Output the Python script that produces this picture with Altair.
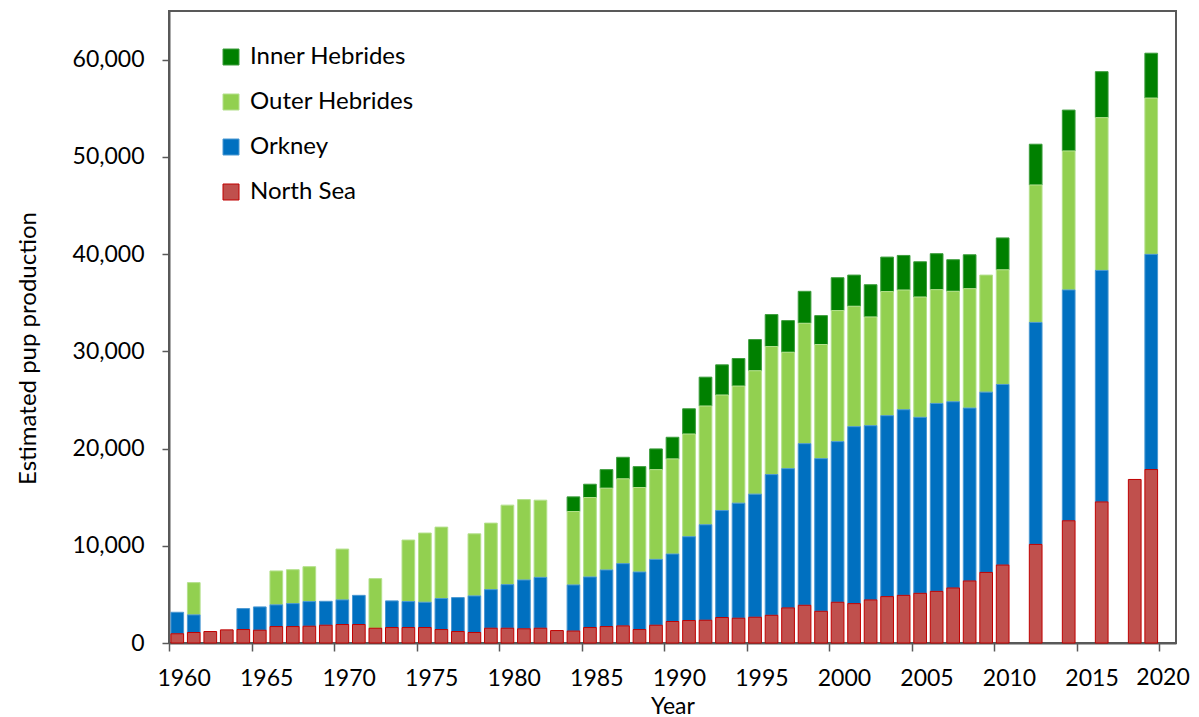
import altair as alt
import pandas as pd

years = [1960, 1961, 1962, 1963, 1964, 1965, 1966, 1967, 1968, 1969,
         1970, 1971, 1972, 1973, 1974, 1975, 1976, 1977, 1978, 1979,
         1980, 1981, 1982, 1983, 1984, 1985, 1986, 1987, 1988, 1989,
         1990, 1991, 1992, 1993, 1994, 1995, 1996, 1997, 1998, 1999,
         2000, 2001, 2002, 2003, 2004, 2005, 2006, 2007, 2008, 2009,
         2010, 2012, 2014, 2016, 2018, 2019]

north_sea = [950, 1080, 1180, 1350, 1385, 1315, 1690, 1690, 1725, 1830,
             1900, 1900, 1520, 1590, 1590, 1590, 1385, 1180, 1080, 1520,
             1520, 1460, 1520, 1280, 1230, 1590, 1690, 1760, 1385, 1830,
             2210, 2310, 2340, 2620, 2550, 2650, 2850, 3610, 3880, 3260,
             4190, 4050, 4430, 4770, 4900, 5110, 5310, 5660, 6380, 7260,
             8020, 10140, 12570, 14510, 16820, 17840]

orkney = [2210, 1810, None, None, 2155, 2395, 2230, 2360, 2535, 2460,
          2530, 3000, None, 2740, 2670, 2600, 3185, 3490, 3760, 3970,
          4480, 5020, 5230, None, 4740, 5200, 5820, 6400, 5915, 6770,
          6940, 8620, 9820, 11000, 11830, 12660, 14470, 14320, 16620, 15700,
          16520, 18200, 17920, 18610, 19090, 18100, 19330, 19150, 17780, 18540,
          18570, 22830, 23740, 23810, None, 22130]

outer_hebrides = [None, 3320, None, None, None, None, 3490, 3490, 3590, None,
                  5230, None, 5100, None, 6330, 7120, 7350, None, 6390, 6840,
                  8180, 8270, 7940, None, 7550, 8170, 8410, 8720, 8690, 9230,
                  9780, 10560, 12210, 11880, 12040, 12690, 13170, 11970, 12380, 11740,
                  13480, 12380, 11180, 12760, 12310, 12370, 11700, 11360, 12280, 12040,
                  11790, 14130, 14290, 15710, None, 16070]

inner_hebrides = [None, None, None, None, None, None, None, None, None, None,
                  None, None, None, None, None, None, None, None, None, None,
                  None, None, None, None, 1510, 1370, 1910, 2220, 2150, 2130,
                  2230, 2600, 2970, 3110, 2840, 3210, 3290, 3260, 3290, 2970,
                  3380, 3210, 3320, 3550, 3560, 3630, 3700, 3250, 3490, None,
                  3280, 4200, 4210, 4730, None, 4620]

series_names = ["Inner Hebrides", "Outer Hebrides", "Orkney", "North Sea"]
fill_colors = ["#008000", "#92D050", "#0070C0", "#C0504D"]
stroke_colors = ["#3d9d3d", "#b4e08c", "#4a98d2", "#C00000"]
stroke_widths = [1, 1, 1, 2]
stack_rank = [3, 2, 1, 0]

y_ticks = [0, 10000, 20000, 30000, 40000, 50000, 60000]
x_tick_years = [1960, 1965, 1970, 1975, 1980, 1985, 1990, 1995, 2000, 2005, 2010, 2015, 2020]
last_tick_label = ["2020"]
all_years = list(range(1960, 2021))

series_values = {
    "North Sea": north_sea,
    "Orkney": orkney,
    "Outer Hebrides": outer_hebrides,
    "Inner Hebrides": inner_hebrides,
}

rows = []
for i, yr in enumerate(years):
    for name in series_names:
        v = series_values[name][i]
        if v is not None:
            rows.append({"year": yr, "series": name, "value": v,
                         "rank": stack_rank[series_names.index(name)]})
df = pd.DataFrame(rows)
df_last = pd.DataFrame({"year": [int(s) for s in last_tick_label], "label": last_tick_label})

FONT = "Lato"
FS = 24
LFS = 23
GRAY = "#595959"
TICK = 8
LPAD = 16

x_scale = alt.Scale(domain=all_years, paddingInner=0.23, paddingOuter=0.115)
y_scale = alt.Scale(domain=[0, 65000], nice=False)

legend_def = alt.Legend(
    title=None, orient="none", legendX=50, legendY=34,
    symbolType="square", symbolSize=256, labelFontSize=FS, labelFont=FONT,
    labelColor="#000000", labelOffset=7, rowPadding=21, padding=0,
    symbolStrokeWidth=1.5, labelLimit=400,
)

bars = alt.Chart(df).mark_bar().encode(
    x=alt.X(
        "year:O",
        scale=x_scale,
        axis=alt.Axis(
            values=x_tick_years, bandPosition=0, tickOffset=-1.9, labelOffset=8.25,
            labelExpr="datum.value == 2020 ? '' : datum.label",
            labelAngle=0, title="Year", tickSize=TICK, labelPadding=LPAD,
            titleY=70, titleBaseline="alphabetic", titleFontSize=23,
        ),
    ),
    y=alt.Y(
        "value:Q", stack="zero",
        scale=y_scale,
        axis=alt.Axis(
            values=y_ticks, format=",d", title="Estimated pup production",
            tickSize=7, labelPadding=18, titleX=-141, titleY=337,
            titleAlign="center", titleBaseline="middle", titleAngle=-90,
        ),
    ),
    fill=alt.Fill("series:N", scale=alt.Scale(domain=series_names, range=fill_colors), legend=legend_def),
    stroke=alt.Stroke("series:N", scale=alt.Scale(domain=series_names, range=stroke_colors), legend=legend_def),
    strokeWidth=alt.StrokeWidth("series:N", scale=alt.Scale(domain=series_names, range=stroke_widths), legend=None),
    order=alt.Order("rank:Q", sort="ascending"),
)

last_label = alt.Chart(df_last).mark_text(
    align="right", baseline="top", font=FONT, fontSize=LFS, color="#000000",
    dx=22, dy=TICK + LPAD,
).encode(
    x=alt.X("year:O", scale=x_scale),
    y=alt.Y(datum=0, scale=y_scale),
    text="label:N",
)

chart = alt.layer(bars, last_label).properties(
    width=1007, height=632,
    autosize=alt.AutoSizeParams(type="none"),
    padding={"left": 161, "top": 3, "right": 15, "bottom": 78},
).configure_view(
    stroke=GRAY, strokeWidth=2,
).configure_axis(
    grid=False, domainColor=GRAY, domainWidth=2, tickColor=GRAY, tickWidth=1.5,
    labelFont=FONT, labelFontSize=LFS, labelColor="#000000",
    titleFont=FONT, titleFontSize=FS, titleFontWeight="normal", titleColor="#000000",
)

chart.save("out.html", embed_options={"renderer": "svg", "actions": False})
